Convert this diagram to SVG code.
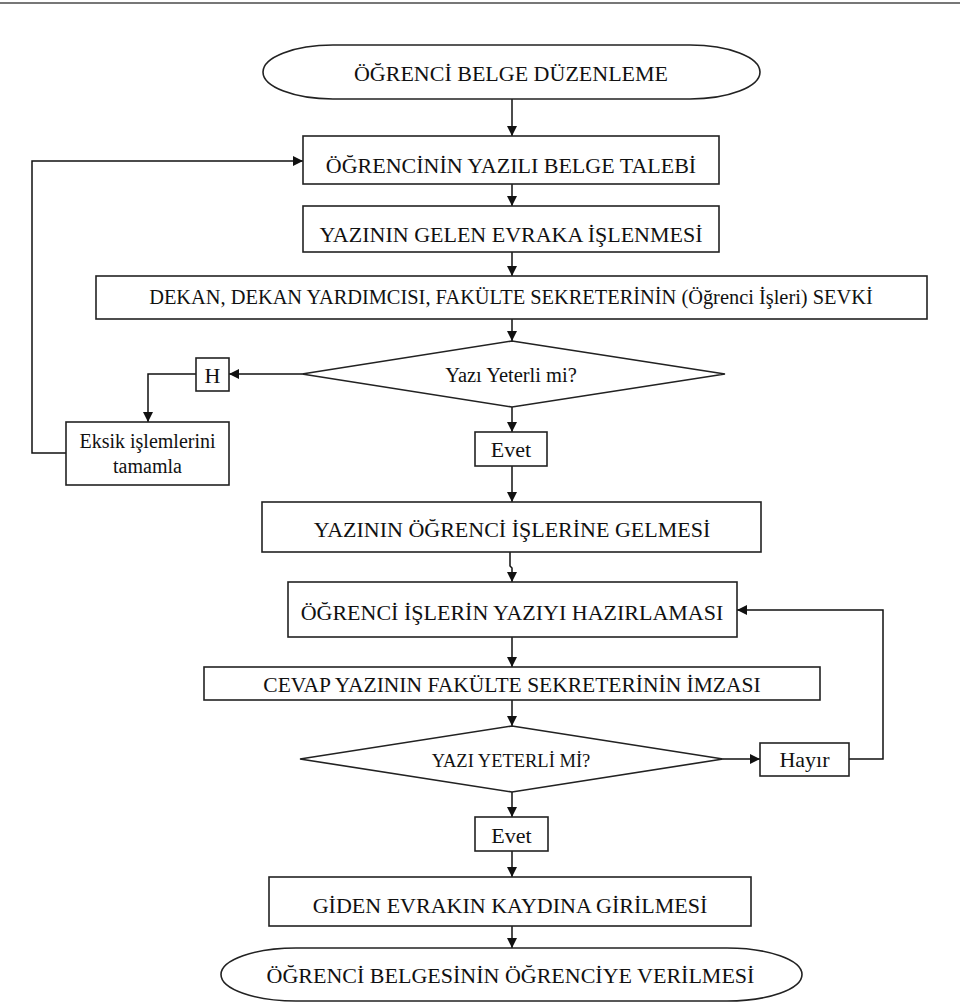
<svg xmlns="http://www.w3.org/2000/svg" width="960" height="1003" viewBox="0 0 960 1003">
<defs>
<marker id="ah" viewBox="0 0 10 10" refX="10" refY="5" markerWidth="10" markerHeight="10" markerUnits="userSpaceOnUse" orient="auto">
<path d="M0,0 L10,5 L0,10 Z" fill="#111"/>
</marker>
<style>
.s{fill:#fff;stroke:#222;stroke-width:1.6}
.t{font-family:"Liberation Serif","Times New Roman",serif;fill:#111;text-anchor:middle;font-size:22px}
.c{fill:none;stroke:#111;stroke-width:1.5}
.a{marker-end:url(#ah)}
</style>
</defs>
<rect width="960" height="1003" fill="#fff"/>
<line x1="0" y1="3" x2="960" y2="3" stroke="#777" stroke-width="2"/>

<g id="connectors">
<line class="c a" x1="512" y1="99" x2="512" y2="136"/>
<line class="c a" x1="512" y1="184" x2="512" y2="206"/>
<line class="c a" x1="512" y1="252" x2="512" y2="276"/>
<line class="c a" x1="512" y1="319" x2="512" y2="341"/>
<line class="c a" x1="302" y1="374" x2="229" y2="374"/>
<polyline class="c a" points="196,374 148,374 148,422"/>
<polyline class="c a" points="66,453 32,453 32,161 303,161"/>
<line class="c a" x1="512" y1="407" x2="512" y2="432"/>
<line class="c a" x1="512" y1="466" x2="512" y2="502"/>
<polyline class="c a" points="510,552 510,566 512,568 512,582"/>
<line class="c a" x1="512" y1="637" x2="512" y2="667"/>
<line class="c a" x1="512" y1="700" x2="512" y2="726"/>
<line class="c a" x1="723" y1="759" x2="760" y2="759"/>
<polyline class="c a" points="849,759 883,759 883,610 737,610"/>
<line class="c a" x1="512" y1="792" x2="512" y2="817"/>
<line class="c a" x1="512" y1="851" x2="512" y2="877"/>
<line class="c a" x1="512" y1="926" x2="512" y2="948"/>
</g>

<g id="start">
<rect class="s" x="263" y="45" width="497" height="54" rx="70" ry="27"/>
<text class="t" x="511" y="81">ÖĞRENCİ BELGE DÜZENLEME</text>
</g>
<g id="talep">
<rect class="s" x="303" y="136" width="416" height="48"/>
<text class="t" x="511" y="173">ÖĞRENCİNİN YAZILI BELGE TALEBİ</text>
</g>
<g id="gelen-evrak">
<rect class="s" x="303" y="206" width="416" height="46"/>
<text class="t" x="511" y="242">YAZININ GELEN EVRAKA İŞLENMESİ</text>
</g>
<g id="sevk">
<rect class="s" x="96" y="276" width="831" height="43"/>
<text class="t" x="511" y="304" style="font-size:20.4px">DEKAN, DEKAN YARDIMCISI, FAKÜLTE SEKRETERİNİN (Öğrenci İşleri) SEVKİ</text>
</g>
<g id="karar1">
<polygon class="s" points="512,341 725,374 512,407 302,374"/>
<text class="t" x="511" y="382" style="font-size:20.5px">Yazı Yeterli mi?</text>
</g>
<g id="h">
<rect class="s" x="196" y="358" width="33" height="33"/>
<text class="t" x="212.5" y="383">H</text>
</g>
<g id="eksik">
<rect class="s" x="66" y="422" width="163" height="63"/>
<text class="t" x="147.5" y="448" style="font-size:20px">Eksik işlemlerini</text>
<text class="t" x="147.5" y="473" style="font-size:20px">tamamla</text>
</g>
<g id="evet1">
<rect class="s" x="475" y="432" width="72" height="34"/>
<text class="t" x="511" y="457">Evet</text>
</g>
<g id="ogrenci-islerine">
<rect class="s" x="262" y="502" width="499" height="50"/>
<text class="t" x="512" y="537">YAZININ ÖĞRENCİ İŞLERİNE GELMESİ</text>
</g>
<g id="hazirlama">
<rect class="s" x="288" y="582" width="449" height="55"/>
<text class="t" x="512" y="620">ÖĞRENCİ İŞLERİN YAZIYI HAZIRLAMASI</text>
</g>
<g id="imza">
<rect class="s" x="204" y="667" width="616" height="33"/>
<text class="t" x="512" y="692" style="font-size:21.5px">CEVAP YAZININ FAKÜLTE SEKRETERİNİN İMZASI</text>
</g>
<g id="karar2">
<polygon class="s" points="512,726 723,759 512,792 300,759"/>
<text class="t" x="511" y="767" style="font-size:18.5px">YAZI YETERLİ Mİ?</text>
</g>
<g id="hayir">
<rect class="s" x="760" y="743" width="89" height="33"/>
<text class="t" x="804.5" y="767">Hayır</text>
</g>
<g id="evet2">
<rect class="s" x="475" y="817" width="73" height="34"/>
<text class="t" x="511.5" y="843">Evet</text>
</g>
<g id="giden-evrak">
<rect class="s" x="269" y="877" width="482" height="49"/>
<text class="t" x="510" y="913">GİDEN EVRAKIN KAYDINA GİRİLMESİ</text>
</g>
<g id="end">
<rect class="s" x="221" y="948" width="581" height="53" rx="75" ry="26.5"/>
<text class="t" x="510.5" y="983">ÖĞRENCİ BELGESİNİN ÖĞRENCİYE VERİLMESİ</text>
</g>
</svg>
